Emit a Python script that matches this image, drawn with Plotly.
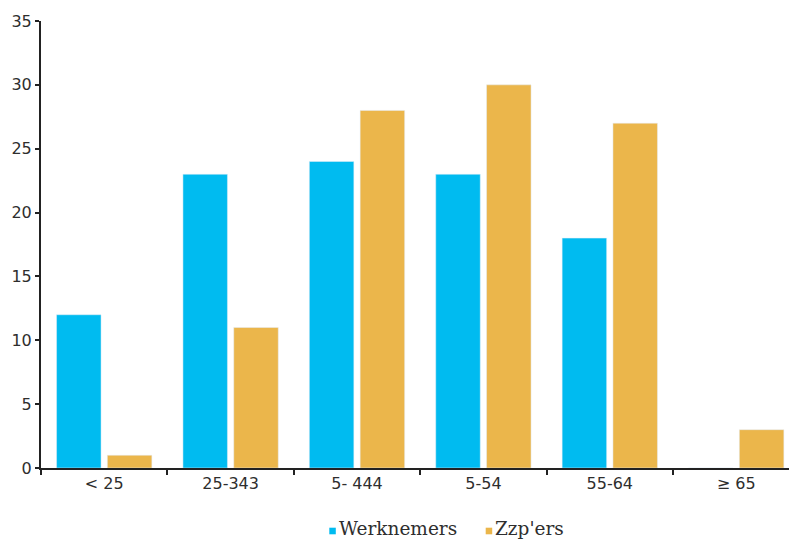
import plotly.graph_objects as go

# Age groups and percentages per group
categories = ["< 25", "25-343", "5- 444", "5-54", "55-64", "\u2265 65"]
werknemers = [12, 23, 24, 23, 18, 0]
zzpers = [1, 11, 28, 30, 27, 3]
series_names = ["Werknemers", "Zzp'ers"]
y_ticks = [0, 5, 10, 15, 20, 25, 30, 35]

BLUE = "#00BBF0"
GOLD = "#EBB64B"
AXIS = "#222222"
TEXT = "#2E2E2E"

W, H = 789, 544
M_L, M_R, M_T, M_B = 41, 0, 21, 76
plot_w = W - M_L - M_R
plot_h = H - M_T - M_B
cat_px = 126.4  # width of one category slot in pixels

fig = go.Figure()
fig.add_trace(go.Bar(x=categories, y=werknemers, name=series_names[0],
                     marker_color=BLUE, showlegend=False))
fig.add_trace(go.Bar(x=categories, y=zzpers, name=series_names[1],
                     marker_color=GOLD, showlegend=False))


def px_x(x):
    return (x - M_L) / plot_w


def px_y(y):
    return (H - M_B - y) / plot_h


# Legend drawn below the plot: small square swatch followed by its label
legend_items = [(series_names[0], BLUE, 329.3), (series_names[1], GOLD, 485.7)]
for name, color, x0 in legend_items:
    fig.add_shape(type="rect", xref="paper", yref="paper",
                  x0=px_x(x0), x1=px_x(x0 + 6.5),
                  y0=px_y(534.3), y1=px_y(527.7),
                  fillcolor=color, line_width=0)
    fig.add_annotation(text=name, xref="paper", yref="paper",
                       x=px_x(x0 + 7.5), y=px_y(528.5), xanchor="left",
                       yanchor="middle", showarrow=False,
                       font=dict(family="DejaVu Serif", size=18.5, color=TEXT))

fig.update_layout(
    width=W, height=H,
    margin=dict(l=M_L, r=M_R, t=M_T, b=M_B, autoexpand=False),
    paper_bgcolor="white", plot_bgcolor="white",
    barmode="group", bargap=0.196, bargroupgap=0.124,
    font=dict(family="DejaVu Sans", size=16, color=TEXT),
    xaxis=dict(
        type="category",
        range=[-0.5, -0.5 + plot_w / cat_px],
        showline=True, linecolor=AXIS, linewidth=2,
        ticks="outside", tickson="boundaries", ticklen=5,
        tickcolor=AXIS, tickwidth=2,
        showgrid=False, zeroline=False, automargin=False,
        tickfont=dict(family="DejaVu Sans", size=16, color=TEXT),
    ),
    yaxis=dict(
        range=[0, 35], tickvals=y_ticks,
        showline=True, linecolor=AXIS, linewidth=2,
        ticks="outside", ticklen=4, tickcolor=AXIS, tickwidth=2,
        showgrid=False, zeroline=False, automargin=False,
        tickfont=dict(family="DejaVu Sans", size=16, color=TEXT),
    ),
)

fig.write_html("out.html")
